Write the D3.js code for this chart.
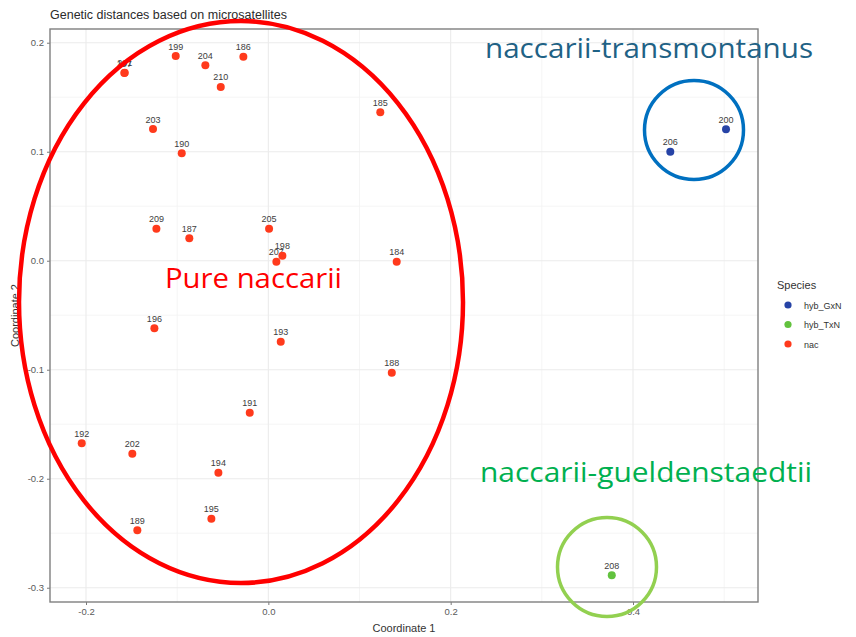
<!DOCTYPE html>
<html>
<head>
<meta charset="utf-8">
<script src="https://cdn.jsdelivr.net/npm/d3@7"></script>
<style>
body { margin: 0; background: #fff; }
svg { display: block; font-family: "Liberation Sans", Arial, sans-serif; }
</style>
</head>
<body>
<svg id="chart" width="856" height="637"></svg>
<script>
// sample ids, MDS coordinates and species group
var ids     = ["197", "201", "199", "204", "186", "210", "185", "203", "190", "209", "187", "205", "207", "198", "184",
               "196", "193", "188", "191", "192", "202", "194", "195", "189", "206", "200", "208"];
var coord1  = [-0.1580, -0.1575, -0.1016, -0.0691, -0.0274, -0.0522, 0.1228, -0.1265, -0.0950, -0.1228, -0.0867, 0.0008, 0.0088, 0.0154, 0.1408,
               -0.1250, 0.0136, 0.1354, -0.0204, -0.2047, -0.1492, -0.0548, -0.0625, -0.1437, 0.4409, 0.5020, 0.3767];
var coord2  = [0.1722, 0.1725, 0.1878, 0.1793, 0.1872, 0.1594, 0.1363, 0.1208, 0.0985, 0.0294, 0.0206, 0.0294, -0.0009, 0.0046, -0.0009,
               -0.0620, -0.0743, -0.1028, -0.1394, -0.1675, -0.1771, -0.1945, -0.2367, -0.2473, 0.1000, 0.1206, -0.2886];
var species = ["nac", "nac", "nac", "nac", "nac", "nac", "nac", "nac", "nac", "nac", "nac", "nac", "nac", "nac", "nac",
               "nac", "nac", "nac", "nac", "nac", "nac", "nac", "nac", "nac", "hyb_GxN", "hyb_GxN", "hyb_TxN"];

var groups = ["hyb_GxN", "hyb_TxN", "nac"];
var groupColors = ["#2643a6", "#62c23e", "#ff3a1c"];
var xTicks = [-0.2, 0.0, 0.2, 0.4];
var yTicks = [0.2, 0.1, 0.0, -0.1, -0.2, -0.3];

var points = ids.map(function(d, i) {
	return { id: d, x: coord1[i], y: coord2[i], sp: species[i] };
});

var svg = d3.select("#chart");
var pL = 50, pR = 758, pT = 29, pB = 602;

var x = d3.scaleLinear().domain([-0.2395, 0.5371]).range([pL, pR]);
var y = d3.scaleLinear().domain([0.2126, -0.3131]).range([pT, pB]);
var color = d3.scaleOrdinal().domain(groups).range(groupColors);
var fmt = function(d) { return d.toFixed(1); };

// minor + major grid
var minorX = [-0.1, 0.1, 0.3, 0.5], minorY = [0.15, 0.05, -0.05, -0.15, -0.25];
var grid = svg.append("g");
grid.selectAll(".mx").data(minorX).enter().append("line")
	.attr("x1", function(d) { return x(d); }).attr("x2", function(d) { return x(d); })
	.attr("y1", pT).attr("y2", pB)
	.attr("stroke", "#f3f3f3").attr("stroke-width", 0.8);
grid.selectAll(".my").data(minorY).enter().append("line")
	.attr("y1", function(d) { return y(d); }).attr("y2", function(d) { return y(d); })
	.attr("x1", pL).attr("x2", pR)
	.attr("stroke", "#f3f3f3").attr("stroke-width", 0.8);
grid.selectAll(".gx").data(xTicks).enter().append("line")
	.attr("x1", function(d) { return x(d); }).attr("x2", function(d) { return x(d); })
	.attr("y1", pT).attr("y2", pB)
	.attr("stroke", "#ebebeb").attr("stroke-width", 1.1);
grid.selectAll(".gy").data(yTicks).enter().append("line")
	.attr("y1", function(d) { return y(d); }).attr("y2", function(d) { return y(d); })
	.attr("x1", pL).attr("x2", pR)
	.attr("stroke", "#ebebeb").attr("stroke-width", 1.1);

// axes
var xAxis = svg.append("g")
	.attr("transform", "translate(0," + pB + ")")
	.call(d3.axisBottom(x).tickValues(xTicks).tickSize(3).tickPadding(3).tickFormat(fmt));
var yAxis = svg.append("g")
	.attr("transform", "translate(" + pL + ",0)")
	.call(d3.axisLeft(y).tickValues(yTicks).tickSize(3).tickPadding(3).tickFormat(fmt));
[xAxis, yAxis].forEach(function(a) {
	a.select(".domain").remove();
	a.selectAll("line").attr("stroke", "#7a7a7a");
	a.selectAll("text").attr("fill", "#5a5a5a").style("font-size", "9.5px")
		.style("font-family", "Liberation Sans, Arial, sans-serif");
});

svg.append("rect")
	.attr("x", pL).attr("y", pT)
	.attr("width", pR - pL).attr("height", pB - pT)
	.attr("fill", "none").attr("stroke", "#7f7f7f").attr("stroke-width", 1.4);

// points + labels
var pts = svg.append("g").selectAll("g")
	.data(points)
	.enter()
	.append("g")
	.attr("transform", function(d) { return "translate(" + x(d.x) + "," + y(d.y) + ")"; });
pts.append("circle")
	.attr("r", 4)
	.attr("fill", function(d) { return color(d.sp); });
pts.append("text")
	.attr("y", -6.5)
	.attr("text-anchor", "middle")
	.style("font-size", "9px")
	.attr("fill", "#3d3d3d")
	.text(function(d) { return d.id; });

// titles
svg.append("text").attr("x", 50).attr("y", 19)
	.style("font-size", "12.5px").attr("fill", "#2b2b2b")
	.text("Genetic distances based on microsatellites");
svg.append("text").attr("x", (pL + pR) / 2).attr("y", 632)
	.attr("text-anchor", "middle").style("font-size", "11px").attr("fill", "#333")
	.text("Coordinate 1");
svg.append("text").attr("transform", "translate(19," + ((pT + pB) / 2) + ") rotate(-90)")
	.attr("text-anchor", "middle").style("font-size", "11px").attr("fill", "#333")
	.text("Coordinate 2");

// legend
var legend = svg.append("g").attr("transform", "translate(777,0)");
legend.append("text").attr("x", 0).attr("y", 289)
	.style("font-size", "11px").attr("fill", "#333").text("Species");
var items = legend.selectAll(".item").data(groups).enter().append("g")
	.attr("transform", function(d, i) { return "translate(0," + (305 + i * 19.5) + ")"; });
items.append("circle").attr("cx", 11).attr("r", 3.6)
	.attr("fill", function(d) { return color(d); });
items.append("text").attr("x", 27).attr("y", 3.5)
	.style("font-size", "9px").attr("fill", "#333")
	.text(function(d) { return d; });

// annotations
var ann = svg.append("g").style("font-family", "'Open Sans', 'Noto Sans', sans-serif");
ann.append("ellipse").attr("cx", 241).attr("cy", 302).attr("rx", 222).attr("ry", 281)
	.attr("fill", "none").attr("stroke", "#ff0000").attr("stroke-width", 4.5);
ann.append("circle").attr("cx", 694).attr("cy", 130).attr("r", 49.5)
	.attr("fill", "none").attr("stroke", "#0070c0").attr("stroke-width", 3.5);
ann.append("circle").attr("cx", 607).attr("cy", 567).attr("r", 49.5)
	.attr("fill", "none").attr("stroke", "#92d050").attr("stroke-width", 3.5);
ann.append("text").attr("x", 165).attr("y", 288)
	.attr("textLength", 177).attr("lengthAdjust", "spacingAndGlyphs")
	.style("font-size", "28px").attr("fill", "#ff0000").text("Pure naccarii");
ann.append("text").attr("x", 485).attr("y", 58)
	.attr("textLength", 328).attr("lengthAdjust", "spacingAndGlyphs")
	.style("font-size", "28px").attr("fill", "#1f6285").text("naccarii-transmontanus");
ann.append("text").attr("x", 480).attr("y", 482)
	.attr("textLength", 332).attr("lengthAdjust", "spacingAndGlyphs")
	.style("font-size", "28px").attr("fill", "#00b050").text("naccarii-gueldenstaedtii");
</script>
</body>
</html>
